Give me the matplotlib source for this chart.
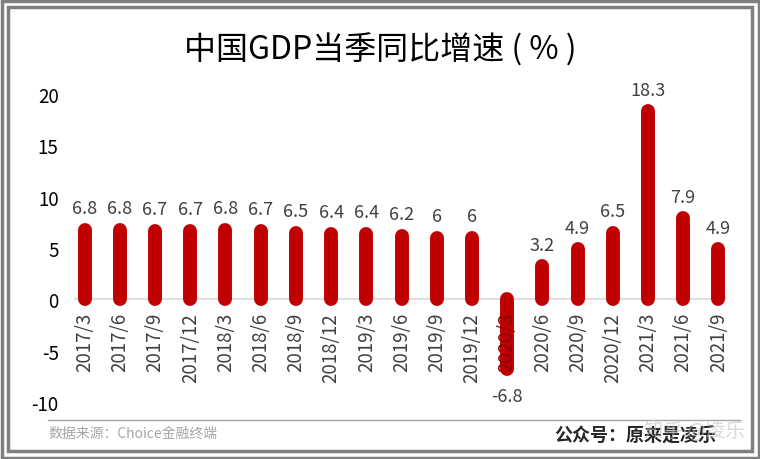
import matplotlib.pyplot as plt
from matplotlib.patches import Rectangle
from matplotlib.lines import Line2D

plt.rcParams['font.family'] = ['Noto Sans CJK SC', 'DejaVu Sans']

# data
quarters = ['2017/3', '2017/6', '2017/9', '2017/12', '2018/3', '2018/6', '2018/9', '2018/12',
            '2019/3', '2019/6', '2019/9', '2019/12', '2020/3', '2020/6', '2020/9', '2020/12',
            '2021/3', '2021/6', '2021/9']
gdp_growth = [6.8, 6.8, 6.7, 6.7, 6.8, 6.7, 6.5, 6.4, 6.4, 6.2, 6, 6, -6.8, 3.2, 4.9, 6.5, 18.3, 7.9, 4.9]
value_labels = ['6.8', '6.8', '6.7', '6.7', '6.8', '6.7', '6.5', '6.4', '6.4', '6.2', '6', '6',
                '-6.8', '3.2', '4.9', '6.5', '18.3', '7.9', '4.9']
y_ticks = [-10, -5, 0, 5, 10, 15, 20]

bar_color = '#C00000'
text_color = '#404040'

fig = plt.figure(figsize=(7.6, 4.6), dpi=100)
W, H = 760, 460

# double grey frame
fig.patches.append(Rectangle((1.5 / W, 1.5 / H), 1 - 3 / W, 1 - 3 / H, transform=fig.transFigure,
                             fill=False, edgecolor='#7f7f7f', linewidth=2.5))
fig.patches.append(Rectangle((8 / W, 8 / H), 1 - 16 / W, 1 - 16 / H, transform=fig.transFigure,
                             fill=False, edgecolor='#7f7f7f', linewidth=2.5))

ax = fig.add_axes([67 / W, 57 / H, 669 / W, 308 / H])
x = list(range(len(quarters)))

# zero line as bottom spine (set before tick labels, it resets ticks)
for s in ['top', 'right', 'left']:
    ax.spines[s].set_visible(False)
ax.spines['bottom'].set_position(('data', 0))
ax.spines['bottom'].set_bounds(-0.28, 18.2)
ax.spines['bottom'].set_color('#d9d9d9')
ax.spines['bottom'].set_linewidth(1.2)
ax.spines['bottom'].set_zorder(2)

# bars with rounded ends
ax.vlines(x, 0, gdp_growth, colors=bar_color, linewidth=10, capstyle='round', zorder=3)

for xi, v, lab in zip(x, gdp_growth, value_labels):
    if v >= 0:
        ax.annotate(lab, (xi, v), xytext=(0, 9), textcoords='offset points',
                    ha='center', va='bottom', fontsize=13, color=text_color)
    else:
        ax.annotate(lab, (xi, v), xytext=(0, -13), textcoords='offset points',
                    ha='center', va='top', fontsize=13, color=text_color)

ax.set_xlim(-0.5, len(quarters) - 0.5)
ax.set_ylim(-10, 20)
ax.set_yticks(y_ticks)
ax.set_yticklabels([str(t) for t in y_ticks], fontsize=13.5, color='black')
ax.set_xticks(x)
ax.set_xticklabels(quarters, rotation=90, fontsize=13.5, color=text_color, va='top', ha='center')
ax.tick_params(axis='both', length=0)
ax.tick_params(axis='x', pad=9)
ax.tick_params(axis='y', pad=6)
ax.xaxis.set_zorder(4)
# label sitting on the negative bar shows through in dark red
for lab, v in zip(ax.get_xticklabels(), gdp_growth):
    if v < 0:
        lab.set_color('#8a0000')

# title
fig.text(0.5, 1 - 50 / H, '中国GDP当季同比增速 ( % )', ha='center', va='center', fontsize=23, color='black')

# footer
fig.add_artist(Line2D([48 / W, 740 / W], [1 - 421 / H, 1 - 421 / H], transform=fig.transFigure,
                      color='#a6a6a6', linewidth=1))
fig.text(48 / W, 1 - 434 / H, '数据来源：Choice金融终端', ha='left', va='center', fontsize=10, color='#a6a6a6')
fig.text(716 / W, 1 - 436 / H, '公众号：原来是凌乐', ha='right', va='center', fontsize=13,
         fontweight='bold', color='#262626')
fig.text(745 / W, 1 - 432 / H, '知乎 @凌乐', ha='right', va='center', fontsize=14,
         color='#bfbfbf', alpha=0.6)

fig.savefig('out.png', dpi=100)
